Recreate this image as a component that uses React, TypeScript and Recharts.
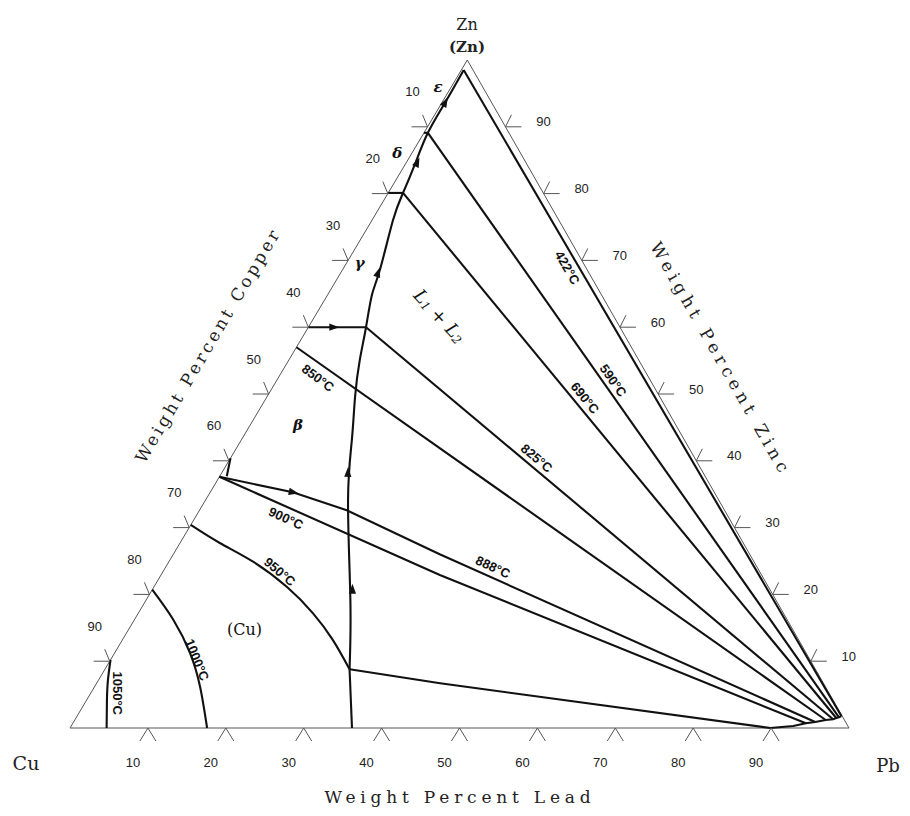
import React from 'react';
import { ScatterChart, Scatter, XAxis, YAxis } from 'recharts';

// Every point is a composition: [wt% Pb, wt% Zn]  (Cu = 100 - Pb - Zn)
type Pt = [number, number];

// horizontal position of the Zn apex, as a fraction of the Cu-Pb base, in this drawing
const SKEW = 0.51;

const triangleOutline: Pt[] = [[0, 0], [100, 0], [0, 100], [0, 0]];

// L1 boundary / monovariant valley (with arrows)
const valleyLower: Pt[] = [[36.2, 0], [31.4, 8.8]];
const valleyUpper: Pt[] = [
  [31.4, 8.8], [26.2, 19.2], [18.3, 34.1], [14.2, 43.1], [11.3, 49.6], [9.1, 55.1],
  [7.4, 60.0], [5.7, 64.8], [4.8, 68.6], [2.7, 76.0], [1.9, 80.1], [1.2, 84.6],
  [0.5, 89.1], [0.4, 93.6], [0.3, 98.5],
];

// liquidus isotherms in the (Cu) field
const liq1050: Pt[] = [[0, 10.2], [1.2, 7.2], [2.6, 4.2], [4.7, 0]];
const liq1000: Pt[] = [[0, 20.7], [5.0, 16.2], [9.7, 11.2], [13.6, 6.1], [17.6, 0]];
const liq950: Pt[] = [[0, 30.4], [5.1, 27.7], [10.8, 24.9], [17.1, 21.1], [22.4, 17.2], [27.0, 13.2], [31.4, 8.8]];

// tie lines across L1 + L2
const tie888: Pt[] = [[0, 37.6], [10.6, 35.3], [18.9, 32.6], [34.2, 26.0], [95.2, 0.9]];
const tie900: Pt[] = [[0, 37.6], [35.8, 22.9], [94.1, 0.7]];
const tie850: Pt[] = [[0, 57.0], [96.4, 1.2]];
const tie825: Pt[] = [[7.4, 60.0], [97.3, 1.3]];
const tie690: Pt[] = [[1.9, 80.1], [97.6, 1.5]];
const tie590: Pt[] = [[0.5, 89.1], [97.9, 1.6]];
const tie422: Pt[] = [[0.3, 98.5], [98.1, 1.8]];
// lowest tie line followed by the Pb-rich L2 boundary
const tieLowAndL2: Pt[] = [
  [31.4, 8.8], [44.1, 6.7], [89.9, 0], [92.7, 0.3], [94.1, 0.7], [95.2, 0.9],
  [96.4, 1.2], [97.3, 1.3], [97.6, 1.5], [97.9, 1.6], [98.1, 1.8],
];

// short invariant lines from the Cu-Zn edge
const short60: Pt[] = [[0, 60.0], [7.4, 60.0]];
const short80: Pt[] = [[0, 80.1], [1.9, 80.1]];
const short89: Pt[] = [[0, 89.1], [0.5, 89.1]];
const short40: Pt[] = [[0, 40.4], [0.9, 37.7]];

const straightLines: Pt[][] = [
  valleyLower, tie888, tie900, tie850, tie825, tie690, tie590, tie422, tieLowAndL2,
  short60, short80, short89, short40,
];
const curvedLines: Pt[][] = [valleyUpper, liq1050, liq1000, liq950];

// arrow heads: composition + direction (screen degrees)
const arrowPb = [25.7, 16.2, 4.8, 1.4, 0.4, 3.2, 10.6];
const arrowZn = [20.7, 38.2, 68.1, 84.6, 93.6, 60.0, 35.3];
const arrowDir = [-90, -88, -72, -66, -62, 0, 12];

// axis ticks
const leadTicks = [10, 20, 30, 40, 50, 60, 70, 80, 90];
const copperTicks = [10, 20, 30, 40, 50, 60, 70, 80, 90];
const zincTicks = [10, 20, 30, 40, 50, 60, 70, 80, 90];

// isotherm labels
const tempText = ['1050°C', '1000°C', '950°C', '900°C', '888°C', '850°C', '825°C', '690°C', '590°C', '422°C'];
const tempPb = [3.5, 11.1, 15.0, 11.7, 42.0, 5.1, 39.3, 40.9, 43.2, 28.7];
const tempZn = [5.2, 10.2, 23.4, 31.4, 24.1, 52.4, 40.4, 49.4, 52.0, 68.9];
const tempAngle = [90, 68, 40, 25, 25, 37, 40, 51, 55, 60];

// phase field labels
const phaseText = ['ε', 'δ', 'γ', 'β'];
const phasePb = [-1.7, -1.9, 1.7, 6.1];
const phaseZn = [96.0, 86.1, 69.6, 45.4];

const toXY = (p: Pt) => ({ x: p[0] + SKEW * p[1], y: p[1] });

const NoDot = () => <g />;

const ArrowHead = (props: any) => {
  const { cx, cy, payload } = props;
  return (
    <path
      d="M6,0 L-4,-3.6 L-4,3.6 Z"
      fill="#111"
      transform={`translate(${cx},${cy}) rotate(${payload.dir})`}
    />
  );
};

const tickStroke = '#555';
const tickFont: React.CSSProperties = { fontFamily: '"Liberation Sans", Arial, sans-serif', fontSize: 13, fill: '#222' };

const LeadTick = (props: any) => {
  const { cx, cy, payload } = props;
  return (
    <g>
      <path d={`M${cx - 8},${cy + 13} L${cx},${cy} L${cx + 8},${cy + 13}`} stroke={tickStroke} fill="none" strokeWidth={1} />
      <text x={cx - 15} y={cy + 34} textAnchor="middle" dominantBaseline="central" style={tickFont}>{payload.label}</text>
    </g>
  );
};
const CopperTick = (props: any) => {
  const { cx, cy, payload } = props;
  return (
    <g>
      <path d={`M${cx - 16},${cy} L${cx},${cy} M${cx - 5},${cy - 12} L${cx},${cy}`} stroke={tickStroke} fill="none" strokeWidth={1} />
      <text x={cx - 15} y={cy - 35} textAnchor="middle" dominantBaseline="central" style={tickFont}>{payload.label}</text>
    </g>
  );
};
const ZincTick = (props: any) => {
  const { cx, cy, payload } = props;
  return (
    <g>
      <path d={`M${cx},${cy} L${cx + 16},${cy} M${cx + 6},${cy - 12} L${cx},${cy}`} stroke={tickStroke} fill="none" strokeWidth={1} />
      <text x={cx + 38} y={cy - 5} textAnchor="middle" dominantBaseline="central" style={tickFont}>{payload.label}</text>
    </g>
  );
};

const TempLabel = (props: any) => {
  const { cx, cy, payload } = props;
  return (
    <text
      x={cx}
      y={cy}
      transform={`rotate(${payload.angle} ${cx} ${cy})`}
      textAnchor="middle"
      dominantBaseline="central"
      style={{ fontFamily: '"Liberation Sans", Arial, sans-serif', fontSize: 13, fontWeight: 600, fill: '#111' }}
    >
      {payload.text}
    </text>
  );
};

const PhaseLabel = (props: any) => {
  const { cx, cy, payload } = props;
  return (
    <text
      x={cx}
      y={cy}
      textAnchor="middle"
      dominantBaseline="central"
      style={{ fontFamily: '"DejaVu Serif", serif', fontSize: 15, fontWeight: 700, fontStyle: 'italic', fill: '#111' }}
    >
      {payload.text}
    </text>
  );
};

const CuLabel = (props: any) => {
  const { cx, cy } = props;
  return (
    <text x={cx} y={cy} textAnchor="middle" dominantBaseline="central" style={{ fontFamily: '"DejaVu Serif", serif', fontSize: 16, fill: '#111' }}>
      (Cu)
    </text>
  );
};

const LLabel = (props: any) => {
  const { cx, cy } = props;
  return (
    <text
      x={cx}
      y={cy}
      transform={`rotate(47 ${cx} ${cy})`}
      textAnchor="middle"
      dominantBaseline="central"
      style={{ fontFamily: '"DejaVu Serif", serif', fontSize: 18, fontStyle: 'italic', fill: '#111' }}
    >
      L<tspan fontSize={12} dy={4}>1</tspan>
      <tspan dy={-4}>{'  +  '}</tspan>L<tspan fontSize={12} dy={4}>2</tspan>
    </text>
  );
};

const serif = '"DejaVu Serif", "Liberation Serif", serif';

const overlayText = (
  text: React.ReactNode,
  left: number,
  top: number,
  angle: number,
  style: React.CSSProperties,
) => (
  <div
    style={{
      position: 'absolute',
      left: left - 200,
      top: top - 12,
      width: 400,
      height: 24,
      lineHeight: '24px',
      textAlign: 'center',
      transform: `rotate(${angle}deg)`,
      whiteSpace: 'nowrap',
      color: '#222',
      ...style,
    }}
  >
    {text}
  </div>
);

export default function App() {
  const lineStyle = { stroke: '#111', strokeWidth: 2.1 };
  return (
    <div style={{ position: 'relative', width: 894, height: 800, overflow: 'hidden', background: '#fff' }}>
      <ScatterChart width={894} height={800} margin={{ top: 52, right: 53, bottom: 80, left: 62 }}>
        <XAxis type="number" dataKey="x" domain={[0, 100]} hide />
        <YAxis type="number" dataKey="y" domain={[0, 100]} hide />

        <Scatter
          data={triangleOutline.map(toXY)}
          line={{ stroke: '#555', strokeWidth: 1 }}
          shape={NoDot}
          fill="#555"
          isAnimationActive={false}
        />

        {straightLines.map((pts, i) => (
          <Scatter
            key={`s${i}`}
            data={pts.map(toXY)}
            line={lineStyle}
            lineJointType="linear"
            shape={NoDot}
            fill="#111"
            isAnimationActive={false}
          />
        ))}
        {curvedLines.map((pts, i) => (
          <Scatter
            key={`c${i}`}
            data={pts.map(toXY)}
            line={lineStyle}
            lineJointType="natural"
            shape={NoDot}
            fill="#111"
            isAnimationActive={false}
          />
        ))}

        <Scatter
          data={arrowPb.map((pb, i) => ({ ...toXY([pb, arrowZn[i]]), dir: arrowDir[i] }))}
          shape={ArrowHead}
          isAnimationActive={false}
        />

        <Scatter data={leadTicks.map((v) => ({ ...toXY([v, 0]), label: v }))} shape={LeadTick} isAnimationActive={false} />
        <Scatter data={copperTicks.map((v) => ({ ...toXY([0, 100 - v]), label: v }))} shape={CopperTick} isAnimationActive={false} />
        <Scatter data={zincTicks.map((v) => ({ ...toXY([100 - v, v]), label: v }))} shape={ZincTick} isAnimationActive={false} />

        <Scatter
          data={tempText.map((t, i) => ({ ...toXY([tempPb[i], tempZn[i]]), text: t, angle: tempAngle[i] }))}
          shape={TempLabel}
          isAnimationActive={false}
        />
        <Scatter
          data={phaseText.map((t, i) => ({ ...toXY([phasePb[i], phaseZn[i]]), text: t }))}
          shape={PhaseLabel}
          isAnimationActive={false}
        />
        <Scatter data={[toXY([14.9, 14.7])]} shape={CuLabel} isAnimationActive={false} />
        <Scatter data={[toXY([16.0, 61.7])]} shape={LLabel} isAnimationActive={false} />
      </ScatterChart>

      {overlayText('Zn', 459, 17, 0, { fontFamily: serif, fontSize: 16 })}
      {overlayText('(Zn)', 459, 39, 0, { fontFamily: serif, fontSize: 15, fontWeight: 700 })}
      {overlayText('Cu', 18, 755, 0, { fontFamily: serif, fontSize: 19 })}
      {overlayText('Pb', 880, 758, 0, { fontFamily: serif, fontSize: 18 })}
      {overlayText('Weight Percent Lead', 452, 789, 0, { fontFamily: serif, fontSize: 17, letterSpacing: 4.8 })}
      {overlayText('Weight Percent Copper', 200, 337, -59.5, { fontFamily: serif, fontSize: 17, letterSpacing: 3.3 })}
      {overlayText('Weight Percent Zinc', 713, 351, 60.3, { fontFamily: serif, fontSize: 17, letterSpacing: 4.8 })}
    </div>
  );
}
